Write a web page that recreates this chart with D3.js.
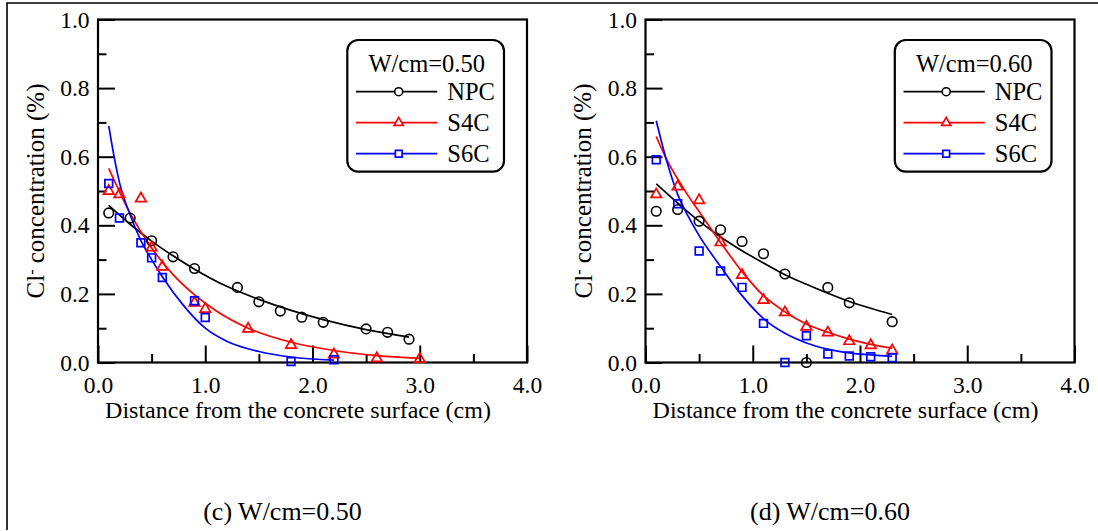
<!DOCTYPE html>
<html>
<head>
<meta charset="utf-8">
<script src="https://cdn.jsdelivr.net/npm/d3@7"></script>
<style>
body { margin: 0; background: #fff; }
svg { display: block; font-family: "Liberation Serif", "Times New Roman", serif; }
</style>
</head>
<body>
<svg id="chart"></svg>
<script>
// axis ticks
const xTicks = [0, 1, 2, 3, 4];
const xMinor = [0.5, 1.5, 2.5, 3.5];
const yTicks = [0, 0.2, 0.4, 0.6, 0.8, 1.0];
const yMinor = [0.1, 0.3, 0.5, 0.7, 0.9];
const seriesNames = ["NPC", "S4C", "S6C"];
const seriesColors = ["#000000", "#ff0000", "#0000ff"];

// (c) W/cm=0.50 measured points
const cNpcX = [0.1, 0.3, 0.5, 0.7, 0.9, 1.3, 1.5, 1.7, 1.9, 2.1, 2.5, 2.7, 2.9];
const cNpcY = [0.436, 0.421, 0.355, 0.308, 0.274, 0.219, 0.177, 0.150, 0.132, 0.117, 0.098, 0.088, 0.068];
const cS4cX = [0.1, 0.2, 0.4, 0.5, 0.6, 0.9, 1.0, 1.4, 1.8, 2.2, 2.6, 3.0];
const cS4cY = [0.500, 0.490, 0.478, 0.335, 0.279, 0.174, 0.156, 0.098, 0.051, 0.023, 0.012, 0.010];
const cS6cX = [0.1, 0.2, 0.4, 0.5, 0.6, 0.9, 1.0, 1.8, 2.2];
const cS6cY = [0.522, 0.421, 0.349, 0.305, 0.248, 0.180, 0.131, 0.003, 0.008];
// (c) fitted curves
const cNpcFitX = [0.1, 0.3, 0.5, 0.7, 0.9, 1.2, 1.5, 1.8, 2.1, 2.5, 2.9];
const cNpcFitY = [0.458, 0.403, 0.354, 0.311, 0.272, 0.222, 0.184, 0.152, 0.125, 0.096, 0.074];
const cS4cFitX = [0.1, 0.3, 0.5, 0.7, 0.9, 1.1, 1.4, 1.8, 2.2, 2.6, 3.0];
const cS4cFitY = [0.566, 0.435, 0.334, 0.256, 0.197, 0.151, 0.100, 0.059, 0.035, 0.020, 0.012];
const cS6cFitX = [0.1, 0.15, 0.2, 0.3, 0.4, 0.5, 0.6, 0.8, 1.0, 1.2, 1.5, 1.8, 2.2];
const cS6cFitY = [0.69, 0.60, 0.525, 0.43, 0.355, 0.30, 0.25, 0.165, 0.10, 0.062, 0.032, 0.016, 0.007];

// (d) W/cm=0.60 measured points
const dNpcX = [0.1, 0.3, 0.5, 0.7, 0.9, 1.1, 1.3, 1.5, 1.7, 1.9, 2.3];
const dNpcY = [0.441, 0.446, 0.412, 0.387, 0.353, 0.317, 0.258, 0.000, 0.219, 0.174, 0.119];
const dS4cX = [0.1, 0.3, 0.5, 0.7, 0.9, 1.1, 1.3, 1.5, 1.7, 1.9, 2.1, 2.3];
const dS4cY = [0.490, 0.513, 0.473, 0.350, 0.255, 0.182, 0.146, 0.104, 0.087, 0.062, 0.050, 0.035];
const dS6cX = [0.1, 0.3, 0.5, 0.7, 0.9, 1.1, 1.3, 1.5, 1.7, 1.9, 2.1, 2.3];
const dS6cY = [0.591, 0.463, 0.325, 0.267, 0.219, 0.114, 0.000, 0.078, 0.025, 0.019, 0.017, 0.014];
// (d) fitted curves
const dNpcFitX = [0.1, 0.3, 0.5, 0.7, 0.9, 1.1, 1.3, 1.5, 1.7, 1.9, 2.1, 2.3];
const dNpcFitY = [0.521, 0.465, 0.412, 0.366, 0.326, 0.290, 0.256, 0.228, 0.202, 0.178, 0.158, 0.140];
const dS4cFitX = [0.1, 0.2, 0.3, 0.4, 0.5, 0.7, 0.9, 1.1, 1.3, 1.5, 1.7, 1.9, 2.1, 2.3];
const dS4cFitY = [0.659, 0.59, 0.535, 0.485, 0.44, 0.35, 0.265, 0.195, 0.148, 0.112, 0.088, 0.068, 0.053, 0.042];
const dS6cFitX = [0.1, 0.2, 0.3, 0.4, 0.5, 0.7, 0.9, 1.1, 1.3, 1.5, 1.7, 1.9, 2.1, 2.3];
const dS6cFitY = [0.705, 0.585, 0.49, 0.425, 0.37, 0.28, 0.195, 0.128, 0.085, 0.057, 0.039, 0.028, 0.022, 0.018];

const zip = (xs, ys) => xs.map((v, i) => [v, ys[i]]);

const panels = [
    {
        left: 98, legendTitle: "W/cm=0.50", caption: "(c) W/cm=0.50",
        points: [zip(cNpcX, cNpcY), zip(cS4cX, cS4cY), zip(cS6cX, cS6cY)],
        fits: [zip(cNpcFitX, cNpcFitY), zip(cS4cFitX, cS4cFitY), zip(cS6cFitX, cS6cFitY)]
    },
    {
        left: 645.5, legendTitle: "W/cm=0.60", caption: "(d) W/cm=0.60",
        points: [zip(dNpcX, dNpcY), zip(dS4cX, dS4cY), zip(dS6cX, dS6cY)],
        fits: [zip(dNpcFitX, dNpcFitY), zip(dS4cFitX, dS4cFitY), zip(dS6cFitX, dS6cFitY)]
    }
];

const W = 1098, H = 531;
const plotTop = 19.5, plotW = 429, plotH = 343;

const svg = d3.select('#chart').attr('width', W).attr('height', H);
svg.append('rect').attr('width', W).attr('height', H).attr('fill', '#fff');

// outer frame (only top and left edges are visible)
svg.append('path')
    .attr('d', `M7,530 L7,3 L${W},3`)
    .attr('fill', 'none').attr('stroke', '#000').attr('stroke-width', 1.6);

// marker drawing, index 0 circle, 1 triangle, 2 square
function marker(sel, idx, big) {
    const color = seriesColors[idx];
    if (idx === 0) {
        return sel.append('circle').attr('r', big ? 4.8 : 4)
            .attr('fill', 'none').attr('stroke', color).attr('stroke-width', 1.6);
    }
    const type = idx === 1 ? d3.symbolTriangle : d3.symbolSquare;
    const size = idx === 1 ? (big ? 48 : 36) : (big ? 60 : 46);
    return sel.append('path').attr('d', d3.symbol(type, size)())
        .attr('fill', 'none').attr('stroke', color).attr('stroke-width', 1.7);
}

function drawPanel(p) {
    const g = svg.append('g').attr('transform', `translate(${p.left},${plotTop})`);
    const x = d3.scaleLinear().domain([0, 4]).range([0, plotW]);
    const y = d3.scaleLinear().domain([0, 1]).range([plotH, 0]);

    // minor ticks
    g.append('g').attr('class', 'axis')
        .attr('transform', `translate(0,${plotH})`)
        .call(d3.axisBottom(x).tickValues(xMinor).tickSize(-8.5).tickFormat(''));
    g.append('g').attr('class', 'axis')
        .call(d3.axisLeft(y).tickValues(yMinor).tickSize(-8.5).tickFormat(''));
    // major ticks
    g.append('g').attr('class', 'axis')
        .attr('transform', `translate(0,${plotH})`)
        .call(d3.axisBottom(x).tickValues(xTicks).tickSize(-17).tickPadding(14).tickFormat(d3.format('.1f')));
    g.append('g').attr('class', 'axis')
        .call(d3.axisLeft(y).tickValues(yTicks).tickSize(-17).tickPadding(8.5).tickFormat(d3.format('.1f')));

    g.selectAll('.axis .domain').remove();
    g.selectAll('.axis line').attr('stroke', '#000').attr('stroke-width', 2);
    g.selectAll('.axis text')
        .attr('fill', '#000')
        .style('font-family', '"Liberation Serif", "Times New Roman", serif')
        .style('font-size', '23.5px');

    // plot box
    g.append('rect').attr('width', plotW).attr('height', plotH)
        .attr('fill', 'none').attr('stroke', '#000').attr('stroke-width', 2.2);

    // fitted curves
    const line = d3.line().x(d => x(d[0])).y(d => y(d[1])).curve(d3.curveMonotoneX);
    p.fits.forEach((f, i) => {
        g.append('path').datum(f).attr('d', line)
            .attr('fill', 'none').attr('stroke', seriesColors[i]).attr('stroke-width', 1.7);
    });

    // measured points
    p.points.forEach((pts, i) => {
        pts.forEach(d => {
            const m = g.append('g').attr('transform', `translate(${x(d[0])},${y(d[1])})`);
            marker(m, i, true);
        });
    });

    // legend
    const lg = g.append('g').attr('transform', `translate(249.3,${40 - plotTop})`);
    lg.append('rect').attr('width', 156.7).attr('height', 131.7)
        .attr('rx', 11).attr('ry', 11)
        .attr('fill', '#fff').attr('stroke', '#000').attr('stroke-width', 2.2);
    lg.append('text').attr('x', 79.4).attr('y', 31.7)
        .attr('text-anchor', 'middle').style('font-size', '24.5px')
        .text(p.legendTitle);
    seriesNames.forEach((name, i) => {
        const ry = 51.7 + i * 31;
        lg.append('line').attr('x1', 8.7).attr('x2', 90).attr('y1', ry).attr('y2', ry)
            .attr('stroke', seriesColors[i]).attr('stroke-width', 1.7);
        const m = lg.append('g').attr('transform', `translate(51.4,${ry})`);
        marker(m, i, false).attr('fill', '#fff');
        lg.append('text').attr('x', 100).attr('y', ry).attr('dy', '0.35em')
            .style('font-size', '24.5px').text(name);
    });

    // axis titles
    g.append('text')
        .attr('x', 200).attr('y', 418 - plotTop)
        .attr('text-anchor', 'middle').style('font-size', '24px')
        .text('Distance from the concrete surface (cm)');
    const yt = g.append('text')
        .attr('transform', `translate(-54,${plotH / 2}) rotate(-90)`)
        .attr('text-anchor', 'middle').style('font-size', '25px');
    yt.append('tspan').text('Cl');
    yt.append('tspan').attr('dy', '-0.45em').style('font-size', '16px').text('-');
    yt.append('tspan').attr('dy', '0.28em').text(' concentration (%)');

    // caption
    g.append('text')
        .attr('x', 184.5).attr('y', 520 - plotTop)
        .attr('text-anchor', 'middle').style('font-size', '26px')
        .text(p.caption);
}

panels.forEach(drawPanel);
</script>
</body>
</html>
